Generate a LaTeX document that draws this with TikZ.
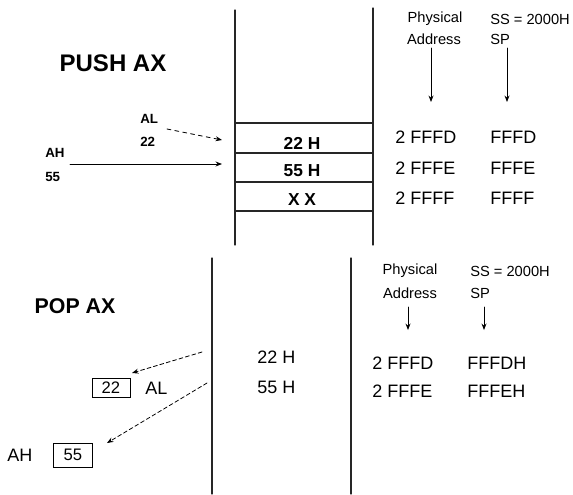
\documentclass[tikz,border=0pt]{standalone}
\usepackage{fontspec}
\setmainfont{Liberation Sans}
\usetikzlibrary{arrows.meta}
\newcommand\fsz[1]{\fontsize{#1}{#1}\selectfont}

\begin{document}
\begin{tikzpicture}[x=0.75pt,y=-0.75pt,>={Stealth[length=1.7mm,width=1.3mm]},line cap=round,
  stack/.style={line width=0.9pt,black!85},
  regb/.style={inner sep=0pt,anchor=west,font=\fsz{10}\bfseries},
  cell/.style={inner sep=0pt,font=\fsz{13}\bfseries},
  head/.style={inner sep=0pt,font=\fsz{11}},
  addr/.style={inner sep=0pt,anchor=west,font=\fsz{13.5}},
  reg/.style={inner sep=0pt,anchor=west,font=\fsz{13.5}},
  valbox/.style={draw,line width=0.6pt,inner sep=0pt,font=\fsz{12.5}},
  mv/.style={->,line width=0.6pt}]
\useasboundingbox (0,0) rectangle (573,494);

% push
\node[font=\fsz{18}\bfseries,inner sep=0pt] (push) at (113,63) {PUSH AX};
\node[regb] (al) at (140,119) {AL};
\node[regb] (alv) at (140,142) {22};
\node[regb] (ah) at (45,153) {AH};
\node[regb] (ahv) at (45,177) {55};
\draw[stack] (235,10) -- (235,245);
\draw[stack] (373,8) -- (373,245);
\foreach \y in {123,153,182,211}
  \draw[stack] (235,\y) -- (373,\y);
\node[cell] (top1) at (302,143) {22 H};
\node[cell] (top2) at (302,171) {55 H};
\node[cell] (top3) at (302,200) {X X};
\coordinate (altail) at (167,129);
\coordinate (alhead) at (222,140);
\coordinate (ahtail) at (70,164);
\coordinate (ahhead) at (222,164);
\draw[mv,dashed] (altail) -- (alhead);
\draw[mv] (ahtail) -- (ahhead);
\node[head] (phys) at (435,19) {Physical};
\node[head] (adr) at (434,39) {Address};
\node[head,anchor=west] (ss) at (490,19) {SS = 2000H};
\node[head,anchor=west] (sp) at (490,39) {SP};
\coordinate (pa) at (431,48);
\coordinate (pb) at (431,102);
\coordinate (sa) at (507,48);
\coordinate (sb) at (507,102);
\draw[mv] (pa) -- (pb);
\draw[mv] (sa) -- (sb);
\node[addr] (pad1) at (395,137) {2 FFFD};
\node[addr] (pad2) at (395,168) {2 FFFE};
\node[addr] (pad3) at (395,198) {2 FFFF};
\node[addr] (spv1) at (490,137) {FFFD};
\node[addr] (spv2) at (490,168) {FFFE};
\node[addr] (spv3) at (490,198) {FFFF};

% pop
\node[font=\fsz{16}\bfseries,inner sep=0pt] (pop) at (75,306) {POP AX};
\draw[stack] (212,258) -- (212,494);
\draw[stack] (351,258) -- (351,494);
\node[reg] (bot1) at (257,357) {22 H};
\node[reg] (bot2) at (257,387) {55 H};
\node[head] (phys2) at (410,271) {Physical};
\node[head] (adr2) at (410,293) {Address};
\node[head,anchor=west] (ss2) at (470,271) {SS = 2000H};
\node[head,anchor=west] (sp2) at (470,293) {SP};
\coordinate (pc) at (408,307);
\coordinate (pd) at (408,330);
\coordinate (sc) at (484,307);
\coordinate (sd) at (484,330);
\draw[mv] (pc) -- (pd);
\draw[mv] (sc) -- (sd);
\node[addr] (pad4) at (372,363) {2 FFFD};
\node[addr] (pad5) at (372,391) {2 FFFE};
\node[addr] (spv4) at (467,363) {FFFDH};
\node[addr] (spv5) at (467,391) {FFFEH};
\node[valbox,minimum width=28.5pt,minimum height=14.5pt] (alval) at (111,388) {22};
\node[reg] (al2) at (145,388) {AL};
\node[reg] (ah2) at (7,455) {AH};
\node[valbox,minimum width=29pt,minimum height=18pt] (ahval) at (73,455) {55};
\coordinate (ptail1) at (202,352);
\coordinate (phead1) at (132,373);
\coordinate (ptail2) at (207,383);
\coordinate (phead2) at (107,443);
\draw[mv,densely dashed] (ptail1) -- (phead1);
\draw[mv,densely dashed] (ptail2) -- (phead2);
\end{tikzpicture}
\end{document}
